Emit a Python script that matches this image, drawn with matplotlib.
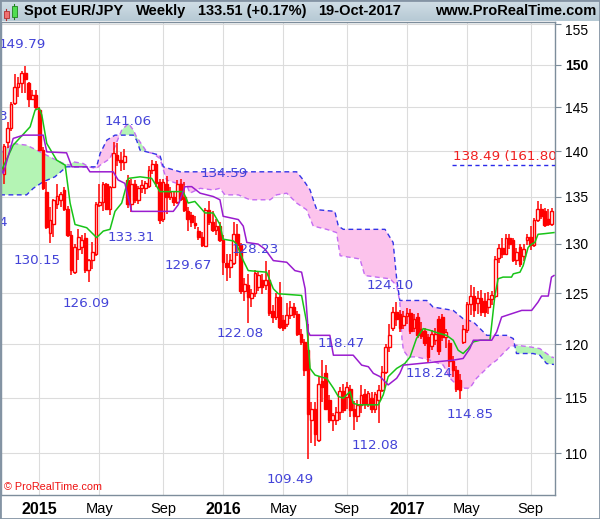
import datetime as dt
import numpy as np
import matplotlib
matplotlib.use("Agg")
import matplotlib.pyplot as plt
from matplotlib.patches import Rectangle
from matplotlib.ticker import FixedLocator, NullLocator
from matplotlib.colors import LinearSegmentedColormap
import matplotlib.transforms as mtransforms

plt.rcParams['font.family'] = ['Liberation Sans', 'DejaVu Sans']

# weekly candles, first bar = week of 27-Oct-2014
first_monday = dt.date(2014, 10, 27)

opens = [137.5, 141.0, 142.6, 145.5, 147.3, 147.8, 149.0, 147.8, 146.0, 146.4,
         144.7, 140.1, 135.5, 131.1, 132.1, 134.2, 134.6, 135.7, 133.7, 130.9,
         127.1, 129.5, 129.7, 130.6, 127.3, 128.3, 129.0, 134.1, 134.4, 136.4,
         133.7, 136.0, 139.6, 139.0, 138.8, 136.8, 134.2, 136.4, 134.6, 135.9,
         135.9, 136.2, 137.9, 138.6, 136.6, 132.6, 136.4, 135.0, 135.0, 134.4,
         136.4, 135.0, 133.5, 133.0, 132.2, 131.4, 130.7, 129.8, 133.6, 132.3,
         131.5, 131.9, 130.4, 128.0, 127.6, 128.0, 131.0, 129.9, 125.2, 125.8,
         124.5, 125.0, 125.6, 126.3, 125.8, 126.3, 123.2, 122.6, 124.6, 122.3,
         122.0, 122.8, 123.6, 122.9, 121.0, 120.2, 119.5, 113.0, 114.0, 111.2,
         116.5, 117.3, 114.8, 113.0, 113.0, 113.7, 115.6, 115.1, 115.8, 114.0,
         113.3, 114.3, 115.3, 114.4, 115.0, 114.0, 114.8, 115.7, 117.4, 119.7,
         121.6, 123.1, 122.9, 121.9, 122.7, 123.0, 121.6, 122.6, 121.5, 121.3,
         120.7, 119.8, 120.4, 122.4, 122.6, 120.7, 120.1, 118.4, 117.6, 116.6,
         120.2, 121.4, 123.9, 124.7, 124.0, 124.5, 124.2, 123.6, 124.4, 124.7,
         128.6, 129.6, 129.0, 130.6, 130.4, 128.4, 129.7, 128.8, 130.4, 130.7,
         129.9, 132.5, 133.7, 133.5, 132.6, 132.1]
highs = [140.8, 143.3, 145.6, 148.9, 148.5, 149.2, 149.79, 148.0, 147.0, 147.0,
         145.0, 140.5, 136.6, 133.9, 134.8, 136.4, 135.5, 136.0, 134.0, 131.4,
         130.0, 131.6, 130.9, 131.1, 128.5, 130.2, 134.4, 136.4, 136.6, 136.5,
         136.2, 141.06, 140.9, 139.9, 140.2, 137.4, 136.9, 136.8, 136.2, 136.8,
         136.7, 138.4, 139.0, 138.9, 136.9, 136.9, 137.2, 136.0, 135.6, 136.8,
         136.9, 136.6, 133.9, 133.4, 132.9, 131.8, 131.2, 133.8, 134.59, 133.5,
         132.6, 132.3, 130.9, 129.0, 129.0, 132.3, 132.1, 130.1, 126.5, 126.9,
         125.4, 127.3, 127.2, 126.9, 128.23, 127.3, 123.8, 125.0, 126.1, 122.8,
         124.0, 124.2, 124.0, 123.2, 121.5, 120.5, 122.0, 114.6, 114.6, 117.0,
         118.47, 118.0, 115.2, 113.6, 114.1, 116.0, 116.3, 116.4, 116.2, 114.7,
         114.8, 116.2, 115.8, 115.6, 115.5, 115.5, 116.2, 117.9, 120.0, 122.0,
         123.6, 124.10, 123.3, 123.2, 123.5, 123.4, 122.9, 123.0, 122.2, 121.6,
         121.0, 121.4, 121.6, 122.7, 122.9, 121.5, 120.4, 118.9, 117.9, 117.2,
         121.9, 124.1, 125.8, 125.6, 125.2, 125.3, 125.0, 125.1, 125.2, 128.8,
         130.0, 130.6, 131.0, 131.0, 130.6, 129.6, 130.0, 130.0, 131.0, 131.9,
         132.7, 134.5, 134.2, 133.8, 133.7, 133.8]
lows = [136.4, 140.4, 142.3, 145.3, 146.2, 146.6, 146.6, 145.0, 145.8, 144.7,
        140.0, 135.7, 131.6, 130.15, 130.7, 133.7, 133.9, 133.5, 130.7, 126.8,
        126.9, 128.3, 129.0, 127.0, 126.09, 127.4, 128.8, 133.9, 133.5, 133.6,
        133.0, 135.9, 138.3, 137.8, 137.9, 133.8, 133.31, 134.3, 134.2, 135.4,
        135.3, 135.9, 137.5, 136.1, 132.1, 132.3, 133.1, 134.6, 134.0, 134.2,
        134.5, 133.4, 131.4, 131.8, 131.6, 130.4, 129.67, 129.7, 132.0, 131.2,
        130.9, 130.2, 126.8, 126.2, 126.5, 127.8, 128.8, 124.9, 124.2, 122.08,
        123.6, 124.6, 125.2, 124.9, 125.3, 122.7, 122.1, 122.3, 121.5, 121.3,
        121.7, 122.4, 122.5, 120.8, 119.9, 117.0, 109.49, 110.9, 110.6, 111.0,
        114.6, 113.9, 112.7, 112.0, 112.5, 113.0, 113.6, 114.0, 113.2, 112.08,
        112.8, 113.6, 114.0, 114.1, 113.6, 113.6, 112.7, 115.5, 117.2, 119.3,
        121.3, 121.8, 121.2, 121.5, 122.0, 121.0, 121.2, 120.6, 120.5, 119.8,
        118.24, 119.5, 119.9, 119.0, 120.3, 119.6, 117.8, 116.9, 115.5, 114.85,
        120.0, 121.1, 122.8, 122.6, 122.9, 122.7, 122.6, 122.9, 123.8, 124.5,
        128.0, 128.6, 128.9, 129.5, 128.1, 127.8, 127.6, 128.2, 129.9, 129.4,
        129.7, 132.3, 132.6, 131.8, 131.9, 131.9]
closes = [140.6, 142.6, 145.4, 147.3, 147.8, 149.0, 148.3, 146.0, 146.4, 145.0,
          140.1, 135.9, 131.8, 132.5, 134.6, 135.1, 135.3, 133.7, 130.9, 127.3,
          129.7, 130.7, 130.4, 127.3, 128.3, 129.2, 134.2, 134.4, 136.4, 133.7,
          136.0, 139.8, 139.0, 138.8, 139.5, 134.2, 136.4, 134.6, 135.9, 136.3,
          136.5, 137.9, 138.6, 136.5, 132.5, 136.6, 135.0, 135.5, 134.4, 136.4,
          134.8, 133.6, 132.6, 132.3, 132.0, 130.7, 129.9, 133.6, 132.3, 131.5,
          131.9, 130.4, 128.1, 127.6, 128.3, 131.0, 129.9, 125.2, 125.9, 124.6,
          125.0, 127.0, 126.8, 125.6, 126.3, 123.0, 122.6, 124.6, 121.7, 121.6,
          122.8, 123.6, 122.9, 121.0, 120.2, 117.6, 113.5, 114.0, 111.7, 116.3,
          116.0, 114.0, 113.0, 113.4, 113.7, 115.6, 113.9, 116.0, 113.9, 113.3,
          114.3, 115.2, 114.4, 115.4, 114.0, 115.3, 115.7, 117.4, 119.7, 120.9,
          123.1, 122.4, 121.6, 122.7, 123.0, 121.3, 122.4, 120.9, 120.8, 120.1,
          118.8, 121.0, 121.0, 119.4, 120.7, 121.2, 118.4, 117.6, 115.8, 115.7,
          121.5, 123.9, 124.7, 123.3, 124.5, 123.1, 123.1, 124.4, 124.8, 128.5,
          129.6, 129.0, 130.6, 130.0, 128.4, 129.2, 127.9, 129.5, 130.7, 129.9,
          132.5, 133.7, 132.9, 132.0, 132.1, 133.51]

# Ichimoku lines (week index, price)
tenkan_week = [-1.1, 2.6, 7.4, 8.8, 10.0, 10.7, 12.1, 14.9, 17.3, 18.7, 20.1, 23.4, 26.2,
               28.1, 30.0, 31.4, 33.3, 35.2, 38.5, 41.8, 44.1, 50.7, 52.1, 54.0, 56.9,
               59.2, 61.1, 62.0, 64.9, 65.8, 67.7, 69.1, 74.3, 76.2, 77.6, 84.2, 85.6,
               86.6, 88.0, 90.3, 91.3, 93.2, 94.6, 96.0, 97.9, 98.8, 100.2, 105.9, 107.3,
               108.7, 111.1, 113.4, 114.9, 116.7, 118.6, 120.5, 123.3, 125.2, 127.1,
               128.5, 129.9, 131.3, 132.8, 134.7, 137.5, 138.9, 139.8, 141.2, 143.6,
               144.1, 146.0, 146.9, 148.3, 149.3, 150.2, 151.1, 153.0, 155.6]
tenkan = [137.53, 140.67, 142.75, 144.67, 144.87, 144.09, 140.86, 139.00, 138.44, 134.32,
          132.04, 131.70, 130.67, 131.35, 131.53, 133.43, 134.32, 136.99, 137.16, 136.99,
          135.55, 135.55, 134.32, 134.49, 133.26, 133.26, 132.04, 130.50, 130.32, 129.99,
          128.29, 127.27, 127.11, 125.44, 124.94, 124.77, 122.16, 117.71, 117.09, 116.85,
          116.79, 115.87, 115.10, 114.95, 115.56, 114.49, 114.34, 114.34, 115.25, 116.94,
          117.71, 118.17, 118.80, 120.55, 121.51, 121.35, 121.03, 120.86, 120.39, 119.43,
          119.12, 119.59, 120.23, 120.39, 120.39, 124.77, 126.44, 126.61, 126.61, 126.94,
          127.11, 127.78, 129.65, 129.99, 130.16, 131.01, 131.08, 131.19]

kijun_week = [-1.1, -0.2, 2.6, 5.5, 11.1, 12.1, 17.7, 19.2, 23.4, 24.3, 30.9, 32.3, 34.2,
              36.1, 47.9, 49.3, 51.2, 53.1, 55.5, 59.2, 61.1, 62.0, 66.3, 67.7, 68.7, 71.9,
              73.8, 76.2, 80.0, 82.3, 84.2, 85.2, 86.1, 86.6, 92.2, 93.2, 98.8, 101.2,
              103.1, 104.5, 106.4, 108.7, 111.1, 112.0, 113.0, 127.1, 129.9, 131.8, 132.8,
              138.0, 139.4, 140.8, 143.6, 146.5, 149.3, 151.1, 152.1, 154.0, 154.9, 155.6]
kijun = [138.26, 137.53, 141.43, 141.80, 141.80, 139.92, 139.81, 138.26, 138.26, 137.71,
         137.71, 136.81, 136.45, 133.43, 133.43, 134.14, 136.09, 136.09, 135.38, 135.02,
         134.67, 132.91, 132.56, 131.87, 130.16, 129.99, 129.48, 128.29, 128.12, 127.27,
         127.11, 125.44, 121.19, 120.86, 120.86, 118.96, 118.96, 118.02, 117.87, 117.25,
         116.94, 116.17, 116.79, 117.25, 118.02, 118.49, 118.65, 119.59, 120.39, 120.39,
         121.19, 122.64, 122.96, 123.29, 123.29, 124.11, 124.71, 124.71, 126.61, 126.77]

span_a_week = [-1.1, 2.6, 6.4, 8.3, 11.1, 13.9, 16.8, 18.7, 19.6, 22.4, 23.9, 26.2, 27.2,
               30.0, 33.3, 35.2, 36.6, 37.5, 40.4, 42.2, 44.1, 46.0, 48.9, 51.7, 52.6, 55.5,
               59.2, 61.1, 62.5, 66.3, 69.6, 75.3, 77.1, 80.0, 81.4, 82.8, 85.6, 87.5, 91.3,
               94.1, 95.1, 100.7, 102.1, 105.4, 109.2, 111.1, 112.0, 112.6, 113.0, 114.4,
               116.7, 120.5, 124.3, 126.2, 128.1, 129.9, 131.8, 133.7, 135.6, 137.5, 139.4,
               141.2, 143.1, 145.0, 148.8, 151.6, 153.5, 154.9, 155.6]
span_a = [139.74, 140.86, 140.67, 140.30, 139.74, 139.18, 138.63, 138.44, 138.81, 138.63,
          138.26, 138.08, 138.44, 139.18, 142.37, 143.14, 142.37, 141.60, 139.92, 139.74,
          139.18, 136.81, 136.45, 136.27, 135.38, 135.91, 135.73, 135.91, 135.20, 135.20,
          134.67, 134.67, 135.20, 135.38, 134.85, 134.32, 133.61, 131.87, 131.53, 131.19,
          128.79, 128.46, 126.77, 126.61, 126.44, 125.77, 124.11, 120.55, 119.43, 118.80,
          118.80, 118.49, 118.02, 116.79, 116.17, 115.87, 115.87, 116.79, 117.40, 118.02,
          118.49, 119.12, 119.75, 119.91, 119.75, 119.59, 119.12, 118.80, 118.73]

span_b_week = [-1.1, 6.4, 8.3, 11.1, 14.4, 17.7, 26.2, 27.2, 29.1, 31.4, 36.6, 37.5, 38.5,
               40.4, 44.1, 45.1, 49.8, 82.8, 84.7, 86.6, 87.5, 88.5, 93.6, 94.6, 96.0, 107.8,
               110.1, 111.1, 112.0, 119.6, 121.4, 127.1, 129.9, 132.8, 136.6, 142.2, 144.1,
               145.0, 149.7, 151.6, 153.5, 155.6]
span_b = [135.20, 135.20, 135.91, 136.62, 137.16, 138.26, 138.26, 139.74, 141.24, 141.80,
          141.80, 141.24, 140.11, 139.92, 139.55, 138.26, 137.71, 137.71, 136.81, 135.73,
          134.67, 133.61, 133.43, 131.87, 131.53, 131.53, 130.16, 126.44, 124.27, 124.27,
          123.62, 123.29, 122.48, 122.16, 120.86, 120.86, 120.55, 119.12, 119.12, 118.96,
          118.17, 118.08]

# swing-point labels: value and the week where it occurred
swing_values = [149.79, 141.06, 130.15, 126.09, 133.31, 134.59, 129.67, 128.23,
                122.08, 118.47, 109.49, 112.08, 124.10, 118.24, 114.85]
swing_weeks = [6, 31, 13, 24, 36, 58, 56, 74, 69, 90, 86, 99, 111, 120, 129]
label_dx = [-3, 15, -13, -3, 0, 15, -14, -10, -8, 19, -18, 21, -6, 1, 10]
label_dy = [22, 20, -18, -21, -25, 27, -18, 12, -11, 17, -20, -16, 17, -11, -15]

fib_level = 138.49
fib_text = "138.49 (161.80%)"
fib_start = 126.7

price_ticks = [110, 115, 120, 125, 130, 135, 140, 145, 150, 155]

header_items = ["Spot EUR/JPY", "Weekly", "133.51 (+0.17%)", "19-Oct-2017"]

opens, highs, lows, closes = map(np.array, (opens, highs, lows, closes))
weeks = np.arange(len(opens))
dates = [first_monday + dt.timedelta(weeks=int(i)) for i in weeks]

W, H = 600, 519
fig = plt.figure(figsize=(W / 100, H / 100), dpi=100)
ax = fig.add_axes([1 / W, 24 / H, 554 / W, 473 / H])

RED = '#ff0000'
# cloud
grid = np.linspace(-1.1, 155.6, 3000)
a_i = np.interp(grid, span_a_week, span_a)
b_i = np.interp(grid, span_b_week, span_b)
ax.fill_between(grid, a_i, b_i, where=a_i >= b_i, color='#b4f4b4', lw=0, interpolate=True, zorder=1)
ax.fill_between(grid, a_i, b_i, where=a_i < b_i, color='#fcc3ec', lw=0, interpolate=True, zorder=1)
ax.plot(span_a_week, span_a, color='#c56cf2', lw=1, ls=(0, (3.5, 2.5)), zorder=2)
ax.plot(span_b_week, span_b, color='#3434e6', lw=1, ls=(0, (3.5, 2.5)), zorder=2)

# candles
ax.vlines(weeks, lows, highs, color=RED, lw=1.1, zorder=4)
for i in weeks:
    o, c = opens[i], closes[i]
    lo, hi = min(o, c), max(o, c)
    hi = max(hi, lo + 0.08)
    ax.add_patch(Rectangle((i - 0.38, lo), 0.76, hi - lo,
                           facecolor='white' if c >= o else RED,
                           edgecolor=RED, lw=1.0, zorder=4.5))

ax.plot(tenkan_week, tenkan, color='#18c418', lw=1.1, zorder=5)
ax.plot(kijun_week, kijun, color='#9a1ccf', lw=1.1, zorder=5)

# fibonacci target
ax.hlines(fib_level, fib_start, 160, colors='#2a2aea', linestyles=(0, (3, 2.5)), lw=1, zorder=5)
off = mtransforms.offset_copy(ax.transData, fig=fig, x=1, y=2, units='dots')
ax.text(fib_start, fib_level, fib_text, transform=off, ha='left', va='bottom',
        color='#f02020', fontsize=9.7, family='DejaVu Sans', clip_on=True, zorder=6)

# swing labels
for val, wk, dx, dy in zip(swing_values, swing_weeks, label_dx, label_dy):
    ax.annotate(f'{val:.2f}', (wk, val), xytext=(dx, dy), textcoords='offset pixels',
                ha='center', va='center', color='#4343d8', fontsize=9.7,
                family='DejaVu Sans', zorder=7, annotation_clip=False)
# labels cut by the left edge
ax.text(-0.3, 143.97, '3', ha='center', va='center', color='#4343d8', fontsize=9.7, family='DejaVu Sans')
ax.text(-0.3, 132.25, '4', ha='center', va='center', color='#4343d8', fontsize=9.7, family='DejaVu Sans')

ax.text(0.006, 0.006, '\u00a9 ProRealTime.com', transform=ax.transAxes, color='#ee1111',
        fontsize=7.8, ha='left', va='bottom')

# axes
ax.set_xlim(-0.85, 155.9)
ax.set_yscale('log')
ax.set_ylim(106.4, 155.2)
ax.yaxis.set_major_locator(FixedLocator(price_ticks))
ax.yaxis.set_minor_locator(NullLocator())
ax.set_yticklabels([str(t) for t in price_ticks])
ax.yaxis.tick_right()
ax.tick_params(axis='y', direction='out', length=4, width=0.8, color='#7d8d9b', pad=3, labelsize=10)
for lab in ax.get_yticklabels():
    if lab.get_text() == '155':
        lab.set_verticalalignment('top')
    if lab.get_text() == '150':
        lab.set_fontweight('bold')

tick_idx, tick_lab, tick_year = [], [], []
for y in (2015, 2016, 2017):
    for m, name in ((1, str(y)), (5, 'May'), (9, 'Sep')):
        idx = next(i for i, d in enumerate(dates) if (d.year, d.month) == (y, m))
        tick_idx.append(idx)
        tick_lab.append(name)
        tick_year.append(m == 1)
ax.set_xticks(tick_idx)
ax.set_xticklabels(tick_lab)
ax.tick_params(axis='x', length=0, pad=5, labelsize=10.5)
for lab, yr in zip(ax.get_xticklabels(), tick_year):
    if yr:
        lab.set_fontweight('bold')
        lab.set_fontsize(11.5)

ax.grid(True, color='#dcdcdc', lw=0.8)
ax.set_axisbelow(True)
for s in ax.spines.values():
    s.set_color('#7d8d9b')
    s.set_linewidth(1)

# header band
hdr = fig.add_axes([0, 1 - 21 / H, 1, 21 / H])
hdr.imshow(np.linspace(0, 1, 50).reshape(-1, 1), aspect='auto',
           cmap=LinearSegmentedColormap.from_list('hdr', ['#d2dfe7', '#b6c9d4']),
           extent=(0, 1, 0, 1))
hdr.set_axis_off()

def fx(px):
    return px / W

def fy(py):
    return 1 - py / H

# little candle icon
fig.add_artist(plt.Line2D([fx(6.3), fx(6.3)], [fy(9), fy(20)], color='#b03030', lw=0.8, zorder=5))
fig.add_artist(Rectangle((fx(4), fy(18)), 4.5 / W, 7 / H, facecolor='#f07070', edgecolor='#b03030', lw=0.6, zorder=6))
fig.add_artist(plt.Line2D([fx(14.3), fx(14.3)], [fy(4), fy(19)], color='#208020', lw=0.8, zorder=5))
fig.add_artist(Rectangle((fx(11.5), fy(17)), 5.5 / W, 11 / H, facecolor='#50dd50', edgecolor='#208020', lw=0.6, zorder=6))

for px, txt in zip((24, 136, 198, 318), header_items):
    fig.text(fx(px), fy(11), txt, fontsize=10.5, fontweight='bold', va='center', ha='left', zorder=6)
fig.text(fx(596), fy(11), 'www.ProRealTime.com', fontsize=10.5, fontweight='bold', va='center', ha='right', zorder=6)

fig.add_artist(Rectangle((0, 0), 1, 1, transform=fig.transFigure, fill=False,
                         edgecolor='#8494a4', lw=2, zorder=10))

fig.savefig('out.png', dpi=100)
